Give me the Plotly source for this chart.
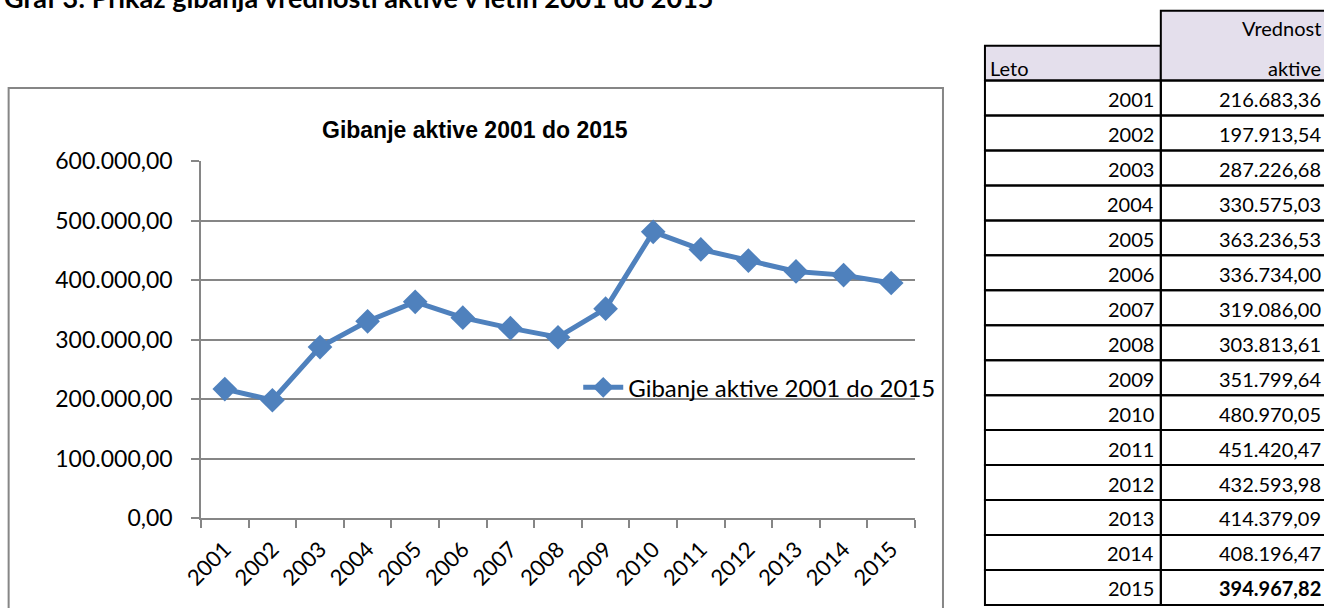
import plotly.graph_objects as go

years = ["2001", "2002", "2003", "2004", "2005", "2006", "2007", "2008",
         "2009", "2010", "2011", "2012", "2013", "2014", "2015"]
values = [216683.36, 197913.54, 287226.68, 330575.03, 363236.53, 336734.00,
          319086.00, 303813.61, 351799.64, 480970.05, 451420.47, 432593.98,
          414379.09, 408196.47, 394967.82]
value_labels = ["216.683,36", "197.913,54", "287.226,68", "330.575,03", "363.236,53",
                "336.734,00", "319.086,00", "303.813,61", "351.799,64", "480.970,05",
                "451.420,47", "432.593,98", "414.379,09", "408.196,47", "394.967,82"]
series_name = "Gibanje aktive 2001 do 2015"
chart_title = "Gibanje aktive 2001 do 2015"
page_heading = "Graf 3: Prikaz gibanja vrednosti aktive v letih 2001 do 2015"
year_header = "Leto"
value_header_lines = ["Vrednost", "aktive"]

W, H = 1324, 608
PL, PR, PT, PB = 200.5, 915, 161, 518.5  # plot area in pixels


def px(x):
    return (x - PL) / (PR - PL)


def py(y):
    return (PB - y) / (PB - PT)


BLUE = "#4F81BD"
GRID = "#868686"
AXFONT = "Lato"

fig = go.Figure()
fig.add_trace(go.Scatter(
    x=years, y=values, mode="lines+markers", name=series_name,
    line=dict(color=BLUE, width=5),
    marker=dict(symbol="diamond", size=19, color=BLUE),
))

shapes = []
annotations = []

# chart frame
shapes.append(dict(type="rect", xref="paper", yref="paper",
                   x0=px(8), x1=px(943), y0=py(640), y1=py(88),
                   line=dict(color=GRID, width=2), fillcolor="rgba(0,0,0,0)", layer="below"))

# chart title
annotations.append(dict(xref="paper", yref="paper", x=px(475), y=py(130),
                        text="<b>" + chart_title + "</b>", showarrow=False,
                        xanchor="center", yanchor="middle",
                        font=dict(family="Liberation Sans", size=23, color="#000")))

# page heading (cut off at top)
annotations.append(dict(xref="paper", yref="paper", x=px(1), y=py(-3),
                        text="<b>" + page_heading + "</b>", showarrow=False,
                        xanchor="left", yanchor="middle",
                        font=dict(family="Lato", size=27, color="#000")))

# table
TX0, TX1, TX2 = 985, 1161, 1330
ROW0, RH = 80.5, 35
HEAD_FILL = "#E4DFEC"
shapes.append(dict(type="rect", xref="paper", yref="paper",
                   x0=px(TX0), x1=px(TX1), y0=py(ROW0), y1=py(45.5),
                   line=dict(color="#000", width=2), fillcolor=HEAD_FILL))
shapes.append(dict(type="rect", xref="paper", yref="paper",
                   x0=px(TX1), x1=px(TX2), y0=py(ROW0), y1=py(10.5),
                   line=dict(color="#000", width=2), fillcolor=HEAD_FILL))
annotations.append(dict(xref="paper", yref="paper", x=px(TX0 + 3), y=py(68),
                        text=year_header, showarrow=False, xanchor="left", yanchor="middle",
                        font=dict(family="Lato", size=20, color="#000")))
for k, line_txt in enumerate(value_header_lines):
    annotations.append(dict(xref="paper", yref="paper", x=px(1323), y=py(28 + 40 * k),
                            text=line_txt, showarrow=False, xanchor="right", yanchor="middle",
                            font=dict(family="Lato", size=20, color="#000")))

for i, (yr, lab) in enumerate(zip(years, value_labels)):
    top = ROW0 + i * RH
    bot = top + RH
    for (a, b) in [(TX0, TX1), (TX1, TX2)]:
        shapes.append(dict(type="rect", xref="paper", yref="paper",
                           x0=px(a), x1=px(b), y0=py(bot), y1=py(top),
                           line=dict(color="#000", width=2), fillcolor="rgba(0,0,0,0)"))
    annotations.append(dict(xref="paper", yref="paper", x=px(TX1 - 5), y=py(top + RH / 2 + 1),
                            text=yr, showarrow=False, xanchor="right", yanchor="middle",
                            font=dict(family="Lato", size=20, color="#000")))
    txt = lab if i < len(years) - 1 else "<b>" + lab + "</b>"
    annotations.append(dict(xref="paper", yref="paper", x=px(1323), y=py(top + RH / 2 + 1),
                            text=txt, showarrow=False, xanchor="right", yanchor="middle",
                            font=dict(family="Lato", size=20, color="#000")))

fig.update_layout(
    width=W, height=H,
    margin=dict(l=PL, r=W - PR, t=PT, b=H - PB, pad=0),
    paper_bgcolor="white", plot_bgcolor="white",
    separators=",.",
    showlegend=True,
    legend=dict(x=px(578), y=py(388), xanchor="left", yanchor="middle",
                bgcolor="rgba(0,0,0,0)", borderwidth=0,
                font=dict(family="Lato", size=24, color="#000"),
                itemwidth=40, tracegroupgap=0),
    xaxis=dict(type="category", showgrid=False, showline=True, linecolor=GRID, linewidth=1.5,
               ticks="outside", tickson="boundaries", ticklen=8, tickcolor=GRID, tickwidth=1.5,
               tickangle=-45, tickfont=dict(family=AXFONT, size=22, color="#000"),
               ticklabelstandoff=8,
               range=[-0.5, len(years) - 0.5], fixedrange=True),
    yaxis=dict(range=[0, 600000], dtick=100000, tickformat=",.2f",
               showgrid=True, gridcolor=GRID, gridwidth=1.5,
               showline=True, linecolor=GRID, linewidth=1.5,
               ticks="outside", ticklen=8, tickcolor=GRID, tickwidth=1.5,
               tickfont=dict(family=AXFONT, size=23, color="#000"),
               ticklabelstandoff=14,
               zeroline=False, fixedrange=True),
    shapes=shapes,
    annotations=annotations,
)

fig.write_html("out.html", config={"displayModeBar": False},
               post_script="document.body.style.margin='0';document.body.style.overflow='hidden';")
